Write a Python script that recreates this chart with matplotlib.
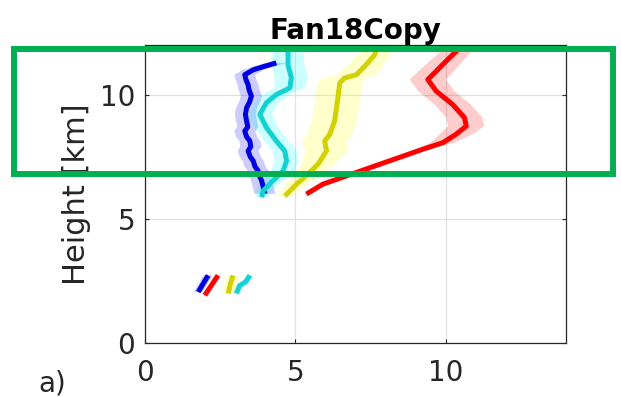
import numpy as np
import matplotlib
matplotlib.use('Agg')
import matplotlib.pyplot as plt
import matplotlib.patches as patches

nan = np.nan

# heights [km] for each profile (low segment, gap, upper segment)
blue_h = [2.04, 2.71, nan, 6.0, 6.3, 6.53, 6.75, 6.93, 7.1, 7.33, 7.5, 7.73, 7.9, 8.13, 8.3, 8.53,
          8.7, 8.94, 9.2, 9.47, 9.7, 9.94, 10.2, 10.4, 10.6, 10.8, 11.0, 11.15, 11.28]
blue_x = [1.77, 2.10, nan, 3.99, 3.93, 3.88, 3.80, 3.76, 3.66, 3.60, 3.50, 3.43, 3.52, 3.49, 3.38, 3.32,
          3.42, 3.38, 3.34, 3.38, 3.48, 3.54, 3.46, 3.43, 3.36, 3.32, 3.60, 4.00, 4.37]
blue_sd = [0.15, 0.15, nan] + [0.35] * 26

cyan_h = [1.98, 2.30, 2.45, 2.71, nan, 5.86, 6.12, 6.53, 6.93, 7.33, 7.73, 8.13, 8.67, 9.2, 9.67,
          10.0, 10.27, 10.67, 11.2, 11.75, 12.0]
cyan_x = [3.04, 3.15, 3.35, 3.49, nan, 3.88, 3.93, 4.26, 4.60, 4.71, 4.65, 4.37, 4.04, 3.82, 4.04,
          4.37, 4.82, 4.87, 4.76, 4.76, 4.98]
cyan_sd = [0.12, 0.12, 0.12, 0.12, nan, 0.2, 0.25, 0.35, 0.4, 0.4, 0.4, 0.4, 0.4, 0.4, 0.4,
           0.45, 0.5, 0.55, 0.55, 0.5, 0.45]

yellow_h = [1.98, 2.40, 2.71, nan, 5.9, 6.39, 6.8, 7.2, 7.73, 8.13, 8.4, 8.94, 9.87, 10.47,
            10.67, 10.8, 11.14, 11.6, 11.99]
yellow_x = [2.77, 2.85, 2.93, nan, 4.65, 5.04, 5.43, 5.76, 6.04, 5.98, 6.15, 6.31, 6.42, 6.48,
            6.64, 7.03, 7.31, 7.64, 7.75]
yellow_sd = [0.2, 0.2, 0.2, nan, 0.3, 0.35, 0.45, 0.55, 0.7, 0.75, 0.75, 0.75, 0.75, 0.75,
             0.7, 0.65, 0.6, 0.55, 0.5]

red_h = [1.91, 2.71, nan, 5.99, 6.39, 6.86, 7.33, 7.8, 8.06, 8.4, 8.73, 9.07, 9.6, 10.14,
         10.61, 10.81, 11.35, 11.88, 12.0]
red_x = [1.99, 2.43, nan, 5.37, 5.92, 7.03, 8.14, 9.25, 9.91, 10.35, 10.69, 10.63, 10.24, 9.69,
         9.41, 9.58, 10.02, 10.47, 10.6]
red_sd = [0.1, 0.1, nan, 0.08, 0.1, 0.12, 0.15, 0.2, 0.4, 0.55, 0.6, 0.6, 0.6, 0.6,
          0.6, 0.6, 0.55, 0.5, 0.5]

profiles = [
    (blue_h, blue_x, blue_sd, '#0000ff', '#0000e0'),
    (cyan_h, cyan_x, cyan_sd, '#00ffff', '#14d2d2'),
    (yellow_h, yellow_x, yellow_sd, '#ffff00', '#d2d200'),
    (red_h, red_x, red_sd, '#ff0000', '#ff0000'),
]

fig = plt.figure(figsize=(6.21, 3.97), dpi=100)
ax = fig.add_axes([0.2335, 0.137, 0.6775, 0.7496])

txt = '#262626'

# shaded spread first, then the mean lines
for h, x, sd, band_c, line_c in profiles:
    h = np.array(h)
    x = np.array(x)
    sd = np.array(sd)
    ax.fill_betweenx(h, x - sd, x + sd, color=band_c, alpha=0.2, linewidth=0)
for h, x, sd, band_c, line_c in profiles:
    ax.plot(x, h, color=line_c, linewidth=3.6, solid_capstyle='butt')

ax.set_xlim(0, 14)
ax.set_ylim(0, 12)
ax.set_xticks([0, 5, 10])
ax.set_yticks([0, 5, 10])
ax.grid(True, color='#e0e0e0', linewidth=0.9)
ax.set_axisbelow(True)

for s in ax.spines.values():
    s.set_color(txt)
    s.set_linewidth(0.9)
ax.tick_params(axis='both', direction='in', length=3, width=0.8, colors=txt,
               labelsize=20, top=True, right=True)
ax.tick_params(axis='x', pad=11.5)
ax.tick_params(axis='y', pad=7)

ax.set_title('Fan18Copy', fontsize=20, fontweight='bold', pad=4)
ax.set_ylabel('Height [km]', fontsize=22, color=txt)
ax.yaxis.set_label_coords(-0.128, 0.5)
# x label sits mostly below the bottom edge, as in the cropped original
ax.set_xlabel('Fan 885 wind', fontsize=22, color=txt)
ax.xaxis.set_label_coords(0.5, -0.182)

fig.text(38 / 621, 0.035, 'a)', fontsize=20, color=txt, va='center', ha='left')

# green highlight box drawn over the figure
box = patches.Rectangle((0.0225, 0.5625), 0.9645, 0.3141, transform=fig.transFigure,
                        fill=False, edgecolor='#00b050', linewidth=4.3, clip_on=False)
fig.add_artist(box)

fig.savefig('out.png', dpi=100)
